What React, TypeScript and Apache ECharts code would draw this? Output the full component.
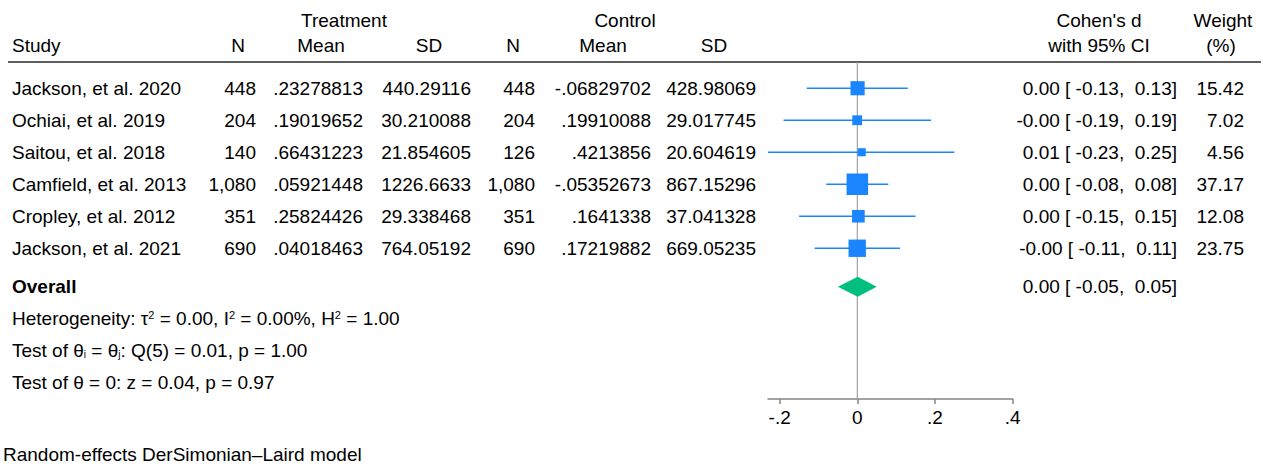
import React, { useEffect, useRef } from 'react';
import * as echarts from 'echarts';

// ---------- data ----------
const studies = [
  'Jackson, et al. 2020',
  'Ochiai, et al. 2019',
  'Saitou, et al. 2018',
  'Camfield, et al. 2013',
  'Cropley, et al. 2012',
  'Jackson, et al. 2021',
];
const trtN = [448, 204, 140, 1080, 351, 690];
const trtMean = [0.23278813, 0.19019652, 0.66431223, 0.05921448, 0.25824426, 0.04018463];
const trtSD = [440.29116, 30.210088, 21.854605, 1226.6633, 29.338468, 764.05192];
const ctlN = [448, 204, 126, 1080, 351, 690];
const ctlMean = [-0.06829702, 0.19910088, 0.4213856, -0.05352673, 0.1641338, 0.17219882];
const ctlSD = [428.98069, 29.017745, 20.604619, 867.15296, 37.041328, 669.05235];
const effect = [0.0007, -0.0003, 0.0114, 0.0001, 0.0028, -0.0002];
const ciLow = [-0.13, -0.19, -0.23, -0.08, -0.15, -0.11];
const ciHigh = [0.13, 0.19, 0.25, 0.08, 0.15, 0.11];
const weights = [15.42, 7.02, 4.56, 37.17, 12.08, 23.75];
const overallEffect = 0.001;
const overallLow = -0.05;
const overallHigh = 0.05;
const xTicks = [-0.2, 0, 0.2, 0.4];
const xMin = -0.23;
const xMax = 0.4;
const heterogeneityText = 'Heterogeneity: τ{sup|2} = 0.00, I{sup|2} = 0.00%, H{sup|2} = 1.00';
const testHetText = 'Test of θ{sub|i} = θ{sub|j}: Q(5) = 0.01, p = 1.00';
const testEffText = 'Test of θ = 0: z = 0.04, p = 0.97';
const footnote = 'Random-effects DerSimonian–Laird model';

// ---------- layout ----------
const FONT = '"Liberation Sans", Arial, Helvetica, sans-serif';
const FS = 19;
const COL = { study: 12, trtN: 256, trtMean: 363, trtSD: 471, ctlN: 535, ctlMean: 651, ctlSD: 756, es: 1177, wt: 1244 };
const Y_MIN = -0.82;
const Y_MAX = 9.71;
const ROW_OVERALL = 6.2;
const NOTE_ROWS = [7.2, 8.2, 9.2];
const BLUE = '#1a85ff';
const GREEN = '#00bf7f';

const fmtN = (n: number) => n.toLocaleString('en-US');
const fmtNum = (v: number) => String(v).replace(/^(-?)0\./, '$1.');
const fmtCI = (v: number) => v.toFixed(2).padStart(6, ' ');
const esText = (e: number, l: number, h: number) => `${e.toFixed(2)} [${fmtCI(l)},${fmtCI(h)}]`;

const txt = (x: number, y: number, text: string, align: string, extra: any = {}) => ({
  type: 'text',
  x,
  y,
  style: {
    text,
    textAlign: align,
    align,
    textVerticalAlign: 'middle',
    verticalAlign: 'middle',
    fill: '#000',
    fontSize: FS,
    fontFamily: FONT,
    ...extra,
  },
});

export default function App() {
  const ref = useRef<HTMLDivElement>(null);
  useEffect(() => {
    if (!ref.current) return;
    const chart = echarts.init(ref.current, undefined, { renderer: 'svg' });
    const option: any = {
      animation: false,
      grid: { left: 768, width: 244.6, top: 62, height: 337 },
      xAxis: {
        type: 'value',
        min: xMin,
        max: xMax,
        position: 'bottom',
        splitLine: { show: false },
        axisLine: { show: true, onZero: false, lineStyle: { color: '#858585', width: 1.5 } },
        axisTick: { show: true, length: 5, customValues: xTicks, lineStyle: { color: '#858585', width: 1.5 } },
        axisLabel: {
          customValues: xTicks,
          formatter: (v: number) => (v === 0 ? '0' : fmtNum(Number(v.toFixed(1)))),
          color: '#000',
          fontSize: FS,
          fontFamily: FONT,
          margin: 9,
        },
      },
      yAxis: { type: 'value', inverse: true, min: Y_MIN, max: Y_MAX, show: false },
      graphic: [
        {
          type: 'line',
          shape: { x1: 8, y1: 62, x2: 1261, y2: 62 },
          style: { stroke: '#2a2a2a', lineWidth: 1.6 },
        },
        txt(344, 20, 'Treatment', 'center'),
        txt(625, 20, 'Control', 'center'),
        txt(1099, 20, "Cohen's d", 'center'),
        txt(1223, 20, 'Weight', 'center'),
        txt(12, 45, 'Study', 'left'),
        txt(238, 45, 'N', 'center'),
        txt(321, 45, 'Mean', 'center'),
        txt(429, 45, 'SD', 'center'),
        txt(513, 45, 'N', 'center'),
        txt(603, 45, 'Mean', 'center'),
        txt(714, 45, 'SD', 'center'),
        txt(1099, 45, 'with 95% CI', 'center'),
        txt(1221, 45, '(%)', 'center'),
        txt(3, 454, footnote, 'left'),
      ],
      series: [
        {
          type: 'custom',
          name: 'zero',
          clip: false,
          z: 1,
          data: [[0, Y_MIN, Y_MAX]],
          encode: { x: 0, y: [1, 2] },
          renderItem: (params: any, api: any) => {
            const p1 = api.coord([api.value(0), api.value(1)]);
            const p2 = api.coord([api.value(0), api.value(2)]);
            return {
              type: 'line',
              shape: { x1: p1[0], y1: p1[1], x2: p2[0], y2: p2[1] },
              style: { stroke: '#9a9a9a', lineWidth: 1.1 },
            };
          },
        },
        {
          type: 'custom',
          name: 'ci',
          clip: false,
          z: 2,
          data: studies.map((_, i) => [ciLow[i], ciHigh[i], i]),
          encode: { x: [0, 1], y: 2 },
          renderItem: (params: any, api: any) => {
            const p1 = api.coord([api.value(0), api.value(2)]);
            const p2 = api.coord([api.value(1), api.value(2)]);
            return {
              type: 'line',
              shape: { x1: p1[0], y1: p1[1], x2: p2[0], y2: p2[1] },
              style: { stroke: BLUE, lineWidth: 1.4 },
            };
          },
        },
        {
          type: 'scatter',
          name: 'effect',
          z: 3,
          symbol: 'rect',
          data: studies.map((_, i) => [effect[i], i, weights[i]]),
          symbolSize: (v: number[]) => 3.4 * Math.sqrt(v[2]) + 0.8,
          itemStyle: { color: BLUE, opacity: 1 },
        },
        {
          type: 'custom',
          name: 'overall',
          clip: false,
          z: 3,
          data: [[overallLow, overallEffect, overallHigh, ROW_OVERALL]],
          encode: { x: [0, 1, 2], y: 3 },
          renderItem: (params: any, api: any) => {
            const l = api.coord([api.value(0), api.value(3)]);
            const m = api.coord([api.value(1), api.value(3)]);
            const h = api.coord([api.value(2), api.value(3)]);
            return {
              type: 'polygon',
              shape: { points: [[l[0], l[1]], [m[0], m[1] - 10], [h[0], h[1]], [m[0], m[1] + 10]] },
              style: { fill: GREEN },
            };
          },
        },
        {
          type: 'custom',
          name: 'table',
          clip: false,
          z: 4,
          data: studies.map((_, i) => [0, i]),
          renderItem: (params: any, api: any) => {
            const i = params.dataIndex;
            const y = api.coord([0, api.value(1)])[1];
            const cells: [number, string, string][] = [
              [COL.study, studies[i], 'left'],
              [COL.trtN, fmtN(trtN[i]), 'right'],
              [COL.trtMean, fmtNum(trtMean[i]), 'right'],
              [COL.trtSD, fmtNum(trtSD[i]), 'right'],
              [COL.ctlN, fmtN(ctlN[i]), 'right'],
              [COL.ctlMean, fmtNum(ctlMean[i]), 'right'],
              [COL.ctlSD, fmtNum(ctlSD[i]), 'right'],
              [COL.es, esText(effect[i], ciLow[i], ciHigh[i]), 'right'],
              [COL.wt, weights[i].toFixed(2), 'right'],
            ];
            return { type: 'group', children: cells.map(([x, t, a]) => txt(x, y, t, a)) };
          },
        },
        {
          type: 'custom',
          name: 'overallText',
          clip: false,
          z: 4,
          data: [[0, ROW_OVERALL]],
          renderItem: (params: any, api: any) => {
            const y = api.coord([0, api.value(1)])[1];
            return {
              type: 'group',
              children: [
                txt(COL.study, y, 'Overall', 'left', { fontWeight: 'bold' }),
                txt(COL.es, y, esText(overallEffect, overallLow, overallHigh), 'right'),
              ],
            };
          },
        },
        {
          type: 'custom',
          name: 'notes',
          clip: false,
          z: 4,
          data: NOTE_ROWS.map((r) => [0, r]),
          renderItem: (params: any, api: any) => {
            const y = api.coord([0, api.value(1)])[1];
            const texts = [heterogeneityText, testHetText, testEffText];
            return txt(COL.study, y, texts[params.dataIndex], 'left', {
              lineHeight: 18,
              rich: {
                sup: { fontSize: 11, lineHeight: 11, verticalAlign: 'top', fontFamily: FONT, fill: '#000', color: '#000' },
                sub: { fontSize: 10, lineHeight: 10, verticalAlign: 'bottom', fontFamily: FONT, fill: '#000', color: '#000' },
              },
            });
          },
        },
      ],
    };
    chart.setOption(option);
    return () => chart.dispose();
  }, []);
  return <div ref={ref} style={{ position: 'fixed', left: 0, top: 0, width: 1263, height: 466, background: '#fff' }} />;
}
